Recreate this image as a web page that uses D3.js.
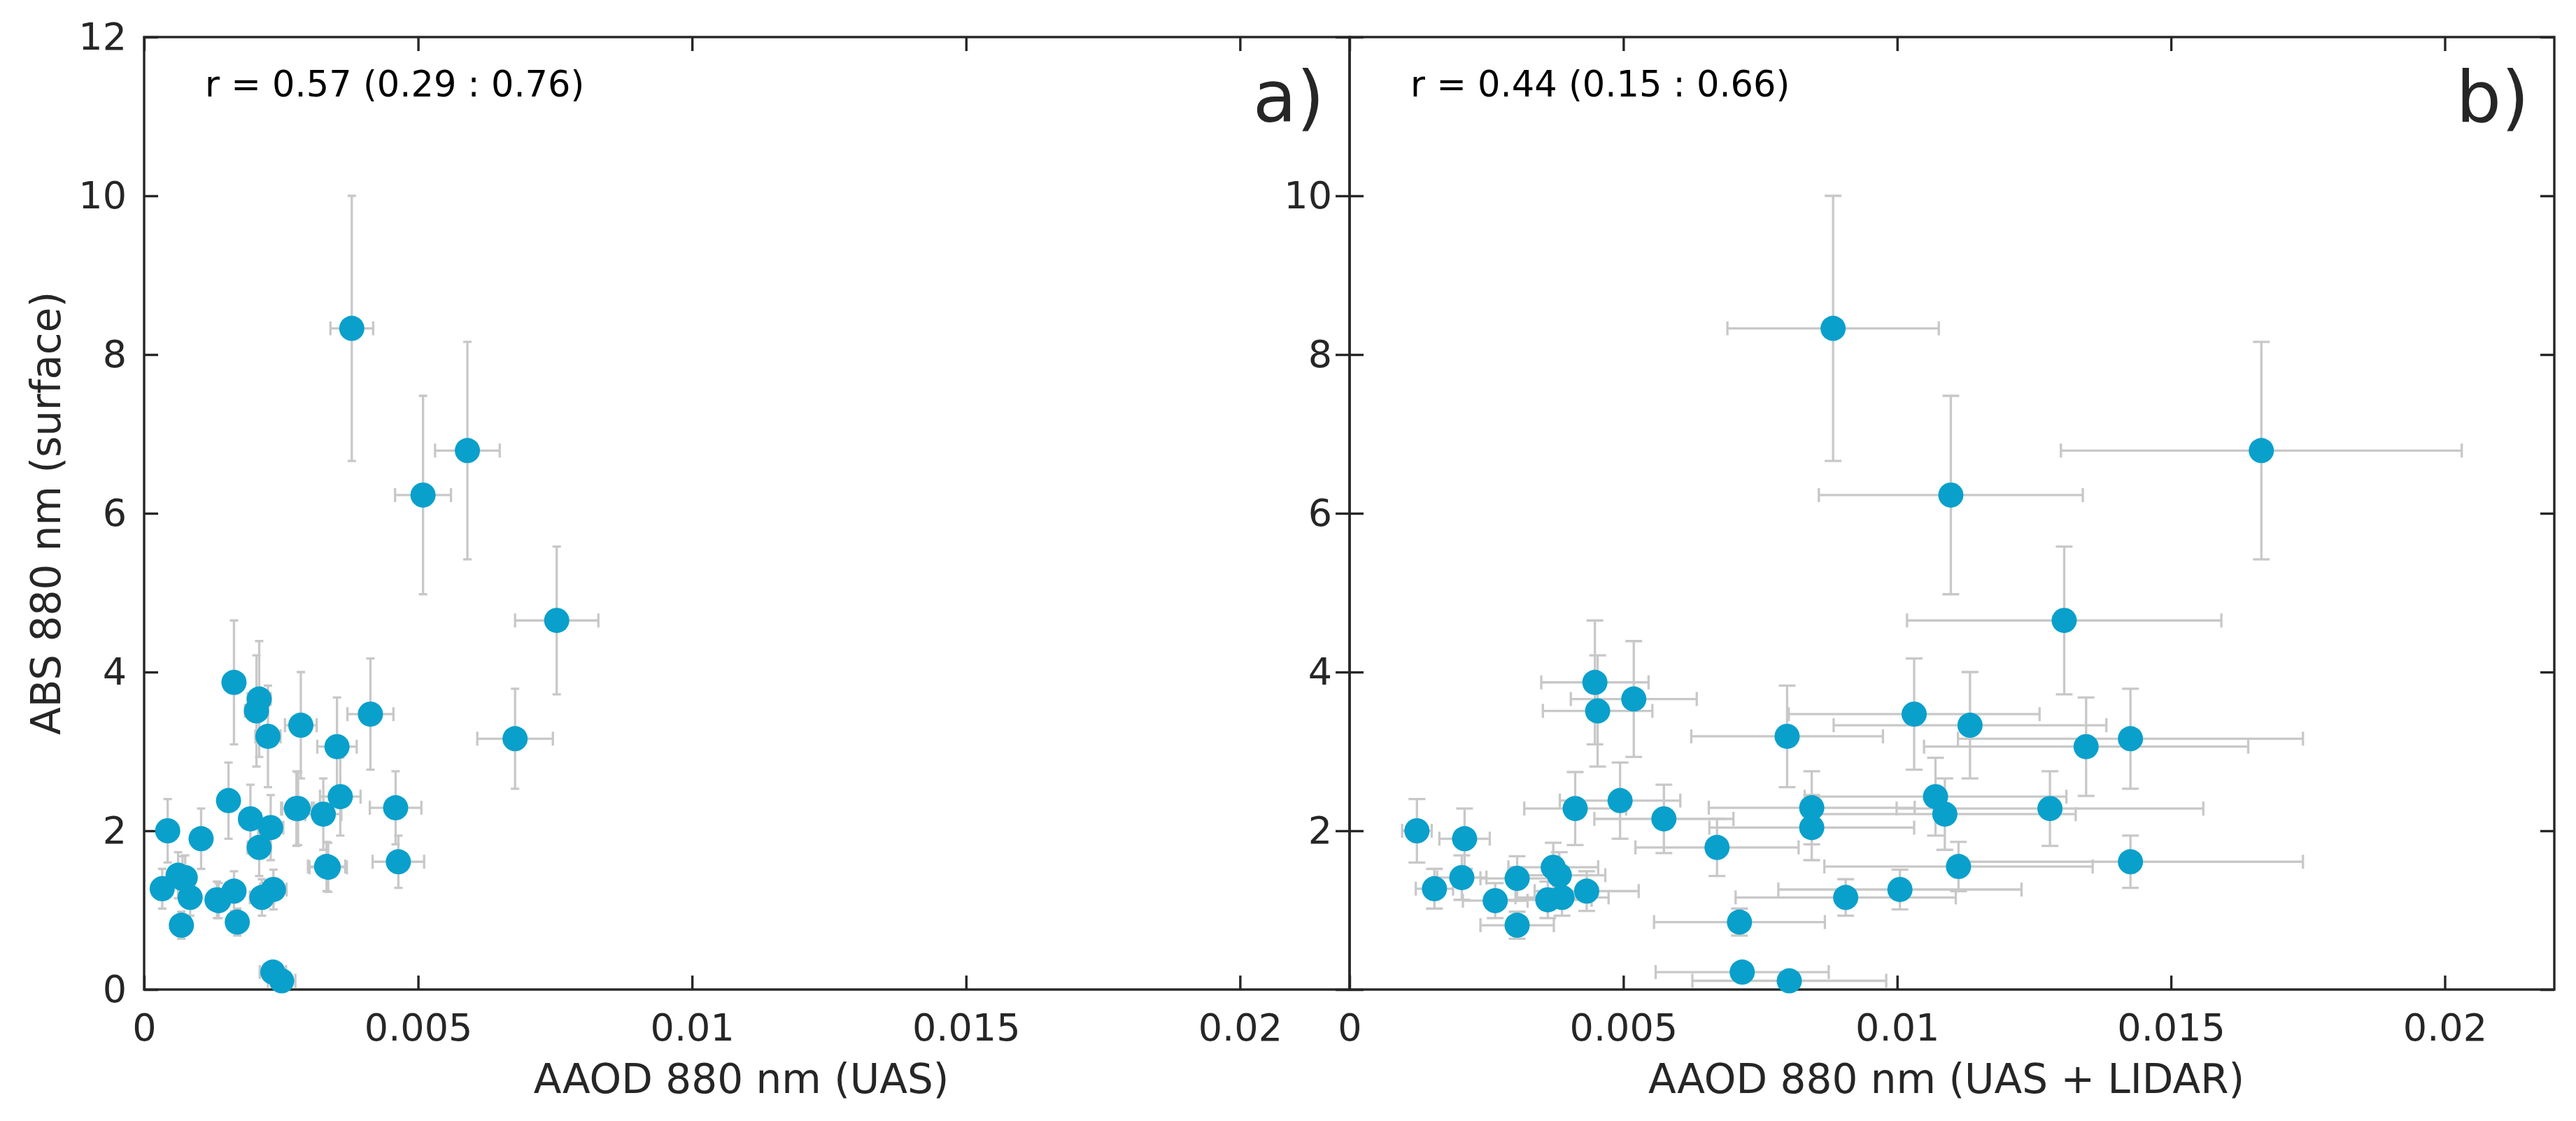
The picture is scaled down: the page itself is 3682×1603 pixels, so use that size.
<!DOCTYPE html>
<html>
<head>
<meta charset="utf-8">
<script src="https://cdn.jsdelivr.net/npm/d3@7"></script>
<style>
  body { margin: 0; background: #fff; }
  svg { display: block; font-family: "DejaVu Sans", sans-serif; }
</style>
</head>
<body>
<svg id="chart" width="3682" height="1603"></svg>
<script>
// surface absorption (ABS 880 nm) and its error, shared by both panels
const absY = [8.33, 6.79, 6.23, 4.65, 3.87, 3.66, 3.51, 3.47, 3.33, 3.19, 3.16, 3.06, 2.43, 2.38, 2.28, 2.29, 2.28, 2.21, 2.15, 2.04,
              2.00, 1.90, 1.79, 1.61, 1.55, 1.54, 1.44, 1.41, 1.40, 1.27, 1.26, 1.24, 1.16, 1.16, 1.13, 1.12, 0.85, 0.81, 0.22, 0.11];
const absErr = [1.67, 1.37, 1.25, 0.93, 0.78, 0.73, 0.70, 0.70, 0.67, 0.64, 0.63, 0.62, 0.49, 0.48, 0.46, 0.46, 0.47, 0.45, 0.43, 0.41,
                0.40, 0.38, 0.36, 0.33, 0.31, 0.31, 0.29, 0.28, 0.28, 0.25, 0.25, 0.25, 0.23, 0.23, 0.23, 0.22, 0.17, 0.17, 0.05, 0.03];

// AAOD 880 nm from UAS only (panel a)
const uasAod = [0.00379, 0.00590, 0.00509, 0.00753, 0.00164, 0.00210, 0.00205, 0.00413, 0.00286, 0.00226, 0.00677, 0.00352, 0.00358, 0.00154,
                0.00281, 0.00459, 0.00278, 0.00327, 0.00194, 0.00231, 0.00043, 0.00104, 0.00210, 0.00464, 0.00333, 0.00336, 0.00062, 0.00075,
                0.00070, 0.00033, 0.00236, 0.00164, 0.00084, 0.00215, 0.00133, 0.00136, 0.00170, 0.00068, 0.00235, 0.00251];
const uasErr = [0.00039, 0.00059, 0.00051, 0.00076, 0.00016, 0.00021, 0.00021, 0.00042, 0.00029, 0.00023, 0.00069, 0.00036, 0.00037, 0.00015,
                0.00029, 0.00047, 0.00028, 0.00033, 0.00019, 0.00023, 0.00004, 0.00010, 0.00021, 0.00047, 0.00034, 0.00034, 0.00006, 0.00008,
                0.00007, 0.00003, 0.00024, 0.00016, 0.00008, 0.00022, 0.00013, 0.00014, 0.00017, 0.00007, 0.00024, 0.00025];

// AAOD 880 nm from UAS + LIDAR (panel b)
const lidarAod = [0.00883, 0.01665, 0.01098, 0.01305, 0.00448, 0.00519, 0.00453, 0.01031, 0.01133, 0.00799, 0.01426, 0.01345, 0.01070, 0.00494,
                  0.00412, 0.00844, 0.01279, 0.01087, 0.00574, 0.00844, 0.00123, 0.00210, 0.00671, 0.01426, 0.01112, 0.00372, 0.00383, 0.00205,
                  0.00306, 0.00155, 0.01005, 0.00433, 0.00388, 0.00906, 0.00362, 0.00266, 0.00712, 0.00306, 0.00717, 0.00803];
const lidarErr = [0.00193, 0.00366, 0.00241, 0.00287, 0.00098, 0.00115, 0.00100, 0.00229, 0.00249, 0.00175, 0.00315, 0.00296, 0.00239, 0.00110,
                  0.00093, 0.00188, 0.00280, 0.00239, 0.00127, 0.00187, 0.00027, 0.00046, 0.00149, 0.00315, 0.00245, 0.00082, 0.00084, 0.00045,
                  0.00067, 0.00034, 0.00222, 0.00095, 0.00085, 0.00201, 0.00080, 0.00059, 0.00156, 0.00067, 0.00158, 0.00177];

const xTicks = [0, 0.005, 0.01, 0.015, 0.02];
const yTicks = [0, 2, 4, 6, 8, 10, 12];

const panels = [
  { id: "a", x: uasAod, xErr: uasErr, label: "AAOD 880 nm (UAS)", r: "r = 0.57 (0.29 : 0.76)", left: 206, right: 1929, capV: 6, yLabels: true },
  { id: "b", x: lidarAod, xErr: lidarErr, label: "AAOD 880 nm (UAS + LIDAR)", r: "r = 0.44 (0.15 : 0.66)", left: 1929, right: 3651, capV: 12, yLabels: false }
];

const plotTop = 53, plotBottom = 1415;
const axisColor = "#262626";
const dotColor = "#09a0cc";
const barColor = "#c8c8c8";
const tickFont = 54;

const svg = d3.select("#chart");
svg.append("rect").attr("width", 3682).attr("height", 1603).attr("fill", "#fff");

const yScale = d3.scaleLinear().domain([0, 12]).range([plotBottom, plotTop]);

const styleAxis = (g) => {
  g.select(".domain").remove();
  g.selectAll(".tick line").attr("stroke", axisColor).attr("stroke-width", 3.4);
  g.selectAll(".tick text").attr("fill", axisColor).attr("font-size", tickFont)
    .attr("font-family", "DejaVu Sans, sans-serif");
};

panels.forEach((p) => {
  const xScale = d3.scaleLinear().domain([0, 0.022]).range([p.left, p.right]);
  const fmt = (d) => String(+d.toFixed(3));
  const g = svg.append("g");

  // axes, ticks pointing inward on all four sides
  g.append("g").attr("transform", `translate(0, ${plotBottom})`)
    .call(d3.axisBottom(xScale).tickValues(xTicks).tickFormat(fmt).tickSizeInner(-20).tickSizeOuter(0).tickPadding(35))
    .call(styleAxis);
  g.append("g").attr("transform", `translate(0, ${plotTop})`)
    .call(d3.axisTop(xScale).tickValues(xTicks).tickFormat("").tickSizeInner(-20).tickSizeOuter(0))
    .call(styleAxis);
  g.append("g").attr("transform", `translate(${p.left}, 0)`)
    .call(d3.axisLeft(yScale).tickValues(yTicks).tickSizeInner(-20).tickSizeOuter(0).tickPadding(25)
      .tickFormat((d) => (p.yLabels || (d > 0 && d < 12)) ? d : ""))
    .call(styleAxis);
  g.append("g").attr("transform", `translate(${p.right}, 0)`)
    .call(d3.axisRight(yScale).tickValues(yTicks).tickFormat("").tickSizeInner(-20).tickSizeOuter(0))
    .call(styleAxis);

  g.append("rect")
    .attr("x", p.left).attr("y", plotTop)
    .attr("width", p.right - p.left).attr("height", plotBottom - plotTop)
    .attr("fill", "none").attr("stroke", axisColor).attr("stroke-width", 3.4);

  // error bars
  const bars = g.append("g").attr("stroke", barColor).attr("stroke-width", 3.3).attr("fill", "none");
  absY.forEach((yv, i) => {
    const cx = xScale(p.x[i]), cy = yScale(yv);
    const x0 = xScale(p.x[i] - p.xErr[i]), x1 = xScale(p.x[i] + p.xErr[i]);
    const y0 = yScale(yv - absErr[i]), y1 = yScale(yv + absErr[i]);
    bars.append("path").attr("d",
      `M${cx},${y0}V${y1}` +
      `M${cx - p.capV},${y0}H${cx + p.capV}M${cx - p.capV},${y1}H${cx + p.capV}` +
      `M${x0},${cy}H${x1}` +
      `M${x0},${cy - 10}V${cy + 10}M${x1},${cy - 10}V${cy + 10}`);
  });

  // markers
  g.append("g").selectAll("circle")
    .data(absY)
    .join("circle")
    .attr("cx", (d, i) => xScale(p.x[i]))
    .attr("cy", (d) => yScale(d))
    .attr("r", 18)
    .attr("fill", dotColor);

  // labels
  g.append("text")
    .attr("x", (p.left + p.right) / 2 - 8).attr("y", 1563)
    .attr("text-anchor", "middle").attr("font-size", 58).attr("fill", axisColor)
    .text(p.label);

  g.append("text")
    .attr("x", p.left + 87).attr("y", 138)
    .attr("font-size", 51).attr("fill", "#000")
    .text(p.r);

  g.append("text")
    .attr("x", p.right - 36).attr("y", 174)
    .attr("text-anchor", "end").attr("font-size", 102).attr("fill", axisColor)
    .text(p.id + ")");
});

svg.append("text")
  .attr("transform", `translate(86, ${(plotTop + plotBottom) / 2}) rotate(-90)`)
  .attr("text-anchor", "middle").attr("font-size", 58).attr("fill", axisColor)
  .text("ABS 880 nm (surface)");
</script>
</body>
</html>
